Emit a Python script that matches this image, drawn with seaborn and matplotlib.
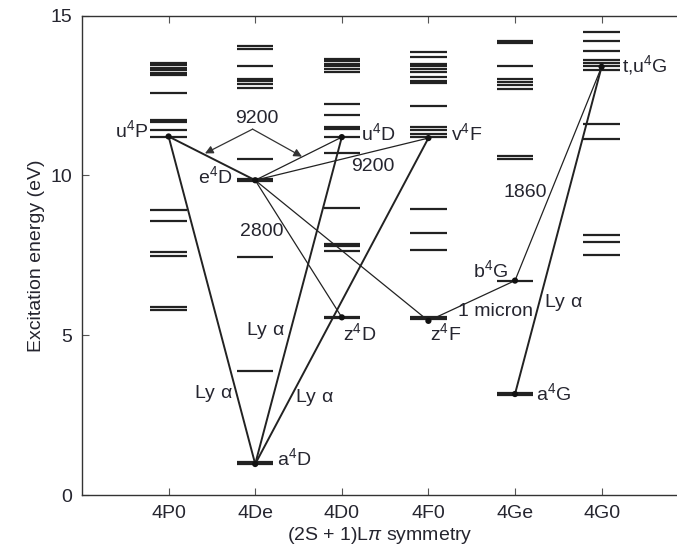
import numpy as np
import pandas as pd
import matplotlib
matplotlib.use("Agg")
import matplotlib.pyplot as plt
import seaborn as sns

# ---------------- data ----------------
symmetries = ["4P0", "4De", "4D0", "4F0", "4Ge", "4G0"]

levels_4P0 = [13.53, 13.45, 13.37, 13.29, 13.21, 13.13, 12.58, 11.73, 11.68, 11.42, 11.21,
              8.91, 8.56, 7.59, 7.48, 5.87, 5.80]
levels_4De = [14.05, 13.95, 13.43, 13.02, 12.97, 12.86, 12.73, 10.52, 9.88, 9.82, 7.44, 3.87,
              1.03, 0.97]
levels_4D0 = [13.66, 13.58, 13.50, 13.42, 13.32, 13.24, 12.23, 11.88, 11.51, 11.44, 11.20,
              10.71, 8.99, 7.86, 7.78, 7.63, 5.58, 5.53]
levels_4F0 = [13.87, 13.71, 13.48, 13.42, 13.32, 13.24, 13.08, 12.96, 12.90, 12.17, 11.51,
              11.41, 11.29, 11.20, 8.96, 8.20, 7.68, 5.58, 5.50]
levels_4Ge = [14.20, 14.14, 13.42, 13.03, 12.93, 12.82, 12.72, 10.60, 10.52, 6.71, 3.19, 3.14]
levels_4G0 = [14.49, 14.21, 13.89, 13.60, 13.52, 13.43, 13.31, 11.62, 11.15, 8.15, 7.92, 7.52]

state_names = ["u4P", "e4D", "a4D", "u4D", "v4F", "z4D", "z4F", "b4G", "a4G", "tu4G"]
state_symmetry = ["4P0", "4De", "4De", "4D0", "4F0", "4D0", "4F0", "4Ge", "4Ge", "4G0"]
state_energy = [11.22, 9.85, 0.97, 11.20, 11.17, 5.56, 5.45, 6.71, 3.16, 13.40]

transition_upper = ["u4P", "u4D", "v4F", "tu4G", "u4P", "u4D", "v4F", "e4D", "e4D", "b4G", "tu4G"]
transition_lower = ["a4D", "a4D", "a4D", "a4G", "e4D", "e4D", "e4D", "z4D", "z4F", "z4F", "b4G"]
transition_kind = ["Ly", "Ly", "Ly", "Ly", "Ly", "thin", "thin", "thin", "thin", "thin", "thin"]

# ---------------- tables ----------------
all_levels = {"4P0": levels_4P0, "4De": levels_4De, "4D0": levels_4D0,
              "4F0": levels_4F0, "4Ge": levels_4Ge, "4G0": levels_4G0}
xpos = {s: i + 1 for i, s in enumerate(symmetries)}
lev_df = pd.DataFrame([(s, xpos[s], e) for s in symmetries for e in all_levels[s]],
                      columns=["sym", "x", "E"])
st_df = pd.DataFrame({"name": state_names, "sym": state_symmetry, "E": state_energy})
st_df["x"] = st_df["sym"].map(xpos)
st = st_df.set_index("name")

# ---------------- style ----------------
sns.set_theme(style="ticks")
plt.rcParams["font.family"] = ["Liberation Sans", "DejaVu Sans"]
plt.rcParams["mathtext.fontset"] = "custom"
plt.rcParams["mathtext.rm"] = "Liberation Sans"
plt.rcParams["mathtext.it"] = "Liberation Sans:italic"
plt.rcParams["mathtext.default"] = "regular"

TXT = "#25252f"
LN = "#222222"
FS = 14

fig = plt.figure(figsize=(6.77, 5.47), dpi=100)
W, H = 677, 547
ax = fig.add_axes([82 / W, 1 - 495 / H, (W - 82) / W, (495 - 15.7) / H])

# energy levels
hw = 0.21
ax.hlines(lev_df["E"], lev_df["x"] - hw, lev_df["x"] + hw, color=LN, lw=1.6)

# transitions
for up, lo, kind in zip(transition_upper, transition_lower, transition_kind):
    ax.plot([st.loc[up, "x"], st.loc[lo, "x"]], [st.loc[up, "E"], st.loc[lo, "E"]],
            color=LN, lw=1.4 if kind == "Ly" else 0.9, solid_capstyle="round")

# state dots
sns.scatterplot(data=st_df, x="x", y="E", ax=ax, color="#111111", s=20,
                edgecolor="none", zorder=5, legend=False)

# state labels
kw = dict(color=TXT, fontsize=FS, va="center")
ax.text(0.76, 11.42, "u$^4$P", ha="right", **kw)
ax.text(1.74, 9.98, "e$^4$D", ha="right", **kw)
ax.text(3.22, 11.33, "u$^4$D", ha="left", **kw)
ax.text(4.26, 11.33, "v$^4$F", ha="left", **kw)
ax.text(6.24, 13.46, "t,u$^4$G", ha="left", **kw)
ax.text(2.25, 1.16, "a$^4$D", ha="left", **kw)
ax.text(3.01, 5.07, "z$^4$D", ha="left", **kw)
ax.text(4.02, 5.07, "z$^4$F", ha="left", **kw)
ax.text(4.92, 7.04, "b$^4$G", ha="right", **kw)
ax.text(5.24, 3.19, "a$^4$G", ha="left", **kw)

# wavelength labels
ax.text(2.02, 11.77, "9200", ha="center", **kw)
ax.text(3.36, 10.27, "9200", ha="center", **kw)
ax.text(1.82, 8.24, "2800", ha="left", **kw)
ax.text(5.12, 9.48, "1860", ha="center", **kw)
ax.text(4.34, 5.73, "1 micron", ha="left", **kw)
ax.text(5.33, 6.01, r"Ly $\alpha$", ha="left", **kw)
ax.text(1.52, 3.19, r"Ly $\alpha$", ha="center", **kw)
ax.text(2.12, 5.16, r"Ly $\alpha$", ha="center", **kw)
ax.text(2.68, 3.04, r"Ly $\alpha$", ha="center", **kw)

# 9200 arrows
for tip in [(1.42, 10.69), (2.54, 10.59)]:
    ax.annotate("", xy=tip, xytext=(1.97, 11.45),
                arrowprops=dict(arrowstyle="-|>", color="#333333", lw=0.9,
                                mutation_scale=12, shrinkA=0, shrinkB=0))

# axes
ax.set_xlim(0, (W - 82) / 86.6)
ax.set_ylim(0, 15)
ax.set_xticks(range(1, len(symmetries) + 1))
ax.set_xticklabels(symmetries)
ax.set_yticks([0, 5, 10, 15])
ax.tick_params(axis="both", direction="in", length=5, width=0.8, colors="#555555",
               labelcolor=TXT, labelsize=FS, pad=7, top=True, right=False)
ax.set_xlabel(r"(2S + 1)L$\mathit{\pi}$ symmetry", fontsize=FS, color=TXT, labelpad=2)
ax.set_ylabel("Excitation energy (eV)", fontsize=FS, color=TXT, labelpad=4)
for s in ["left", "bottom", "top"]:
    ax.spines[s].set_color("#333333")
    ax.spines[s].set_linewidth(1.0)
ax.spines["right"].set_visible(False)

fig.savefig("out.png", dpi=100)
